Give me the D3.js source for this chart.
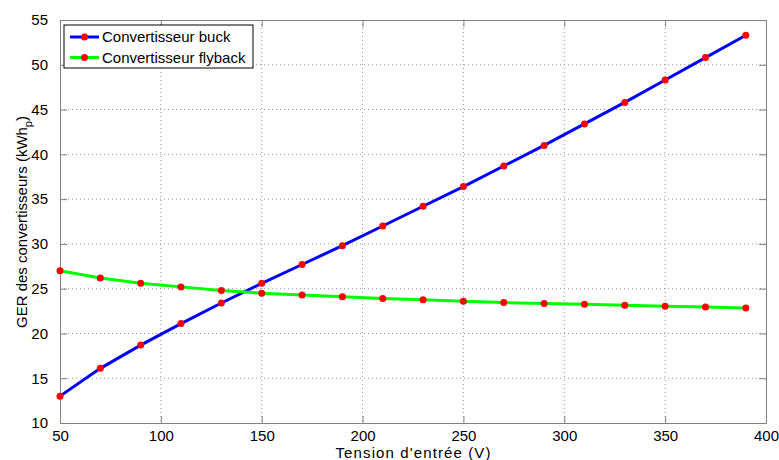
<!DOCTYPE html>
<html><head><meta charset="utf-8">
<script src="https://cdn.jsdelivr.net/npm/d3@7"></script>
<style>body{margin:0;background:#fff;}svg{display:block;font-family:"Liberation Sans",Arial,sans-serif;}</style>
</head><body><svg id="c" width="779" height="460"></svg>
<script>
const tension = [50,70,90,110,130,150,170,190,210,230,250,270,290,310,330,350,370,390];
const buck = [13.0,16.1,18.7,21.1,23.4,25.6,27.7,29.8,32.0,34.2,36.4,38.7,41.0,43.4,45.8,48.3,50.8,53.3];
const flyback = [27.0,26.2,25.6,25.2,24.8,24.5,24.3,24.1,23.9,23.75,23.6,23.45,23.35,23.25,23.15,23.05,22.95,22.85];
const xTicks = [50,100,150,200,250,300,350,400];
const yTicks = [10,15,20,25,30,35,40,45,50,55];
const seriesNames = ["Convertisseur buck","Convertisseur flyback"];
const seriesColors = ["#0000ff","#00ff00"];

const svg = d3.select("#c");
const L=60,R=766,T=20,B=423;
const x = d3.scaleLinear().domain([50,400]).range([L,R]);
const y = d3.scaleLinear().domain([10,55]).range([B,T]);

// grid
const g = svg.append("g");
g.selectAll(".gx").data(xTicks.slice(1,-1)).enter().append("line")
 .attr("x1",d=>x(d)).attr("x2",d=>x(d)).attr("y1",T).attr("y2",B)
 .attr("stroke","#999").attr("stroke-width",1).attr("stroke-dasharray","1,3");
g.selectAll(".gy").data(yTicks.slice(1,-1)).enter().append("line")
 .attr("y1",d=>y(d)).attr("y2",d=>y(d)).attr("x1",L).attr("x2",R)
 .attr("stroke","#999").attr("stroke-width",1).attr("stroke-dasharray","1,3");

// axes
const ax = svg.append("g").attr("transform",`translate(0,${B})`)
 .call(d3.axisBottom(x).tickValues(xTicks).tickSize(-7).tickPadding(7).tickSizeOuter(0));
const ay = svg.append("g").attr("transform",`translate(${L},0)`)
 .call(d3.axisLeft(y).tickValues(yTicks).tickSize(-7).tickPadding(12).tickSizeOuter(0));
const ax2 = svg.append("g").attr("transform",`translate(0,${T})`)
 .call(d3.axisTop(x).tickValues(xTicks).tickSize(-7).tickFormat("").tickSizeOuter(0));
const ay2 = svg.append("g").attr("transform",`translate(${R},0)`)
 .call(d3.axisRight(y).tickValues(yTicks).tickSize(-7).tickFormat("").tickSizeOuter(0));
[ax,ay,ax2,ay2].forEach(a=>{
  a.selectAll("path").attr("stroke","#808080");
  a.selectAll("line").attr("stroke","#808080");
  a.selectAll("text").attr("fill","#000").style("font-size","15px").style("font-family","Liberation Sans, Arial, sans-serif");
});

// lines
const line = d3.line().x((d,i)=>x(tension[i])).y(d=>y(d));
[buck,flyback].forEach((s,k)=>{
  svg.append("path").datum(s).attr("d",line).attr("fill","none")
   .attr("stroke",seriesColors[k]).attr("stroke-width",3);
  svg.selectAll(null).data(s).enter().append("circle")
   .attr("cx",(d,i)=>x(tension[i])).attr("cy",d=>y(d)).attr("r",3.5).attr("fill","#ff0000");
});

// labels
svg.append("text").attr("x",413).attr("y",458).attr("text-anchor","middle")
 .style("font-size","15px").attr("textLength",155).attr("lengthAdjust","spacing").text("Tension d'entrée (V)");
const yl = svg.append("text").attr("transform","translate(27,222) rotate(-90)").attr("text-anchor","middle")
 .style("font-size","15px");
yl.append("tspan").text("GER des convertisseurs (kWh");
yl.append("tspan").attr("dy",5).style("font-size","11px").text("p");
yl.append("tspan").attr("dy",-5).text(")");

// legend
const lg = svg.append("g");
lg.append("rect").attr("x",64).attr("y",25).attr("width",189).attr("height",43)
 .attr("fill","#fff").attr("stroke","#000").attr("stroke-width",1);
seriesNames.forEach((n,k)=>{
  const yy = 37 + k*20.5;
  lg.append("line").attr("x1",70).attr("x2",99).attr("y1",yy).attr("y2",yy)
   .attr("stroke",seriesColors[k]).attr("stroke-width",3);
  lg.append("circle").attr("cx",84.5).attr("cy",yy).attr("r",3.5).attr("fill","#ff0000");
  lg.append("text").attr("x",102).attr("y",yy+5).style("font-size","15px").text(n);
});
</script></body></html>
